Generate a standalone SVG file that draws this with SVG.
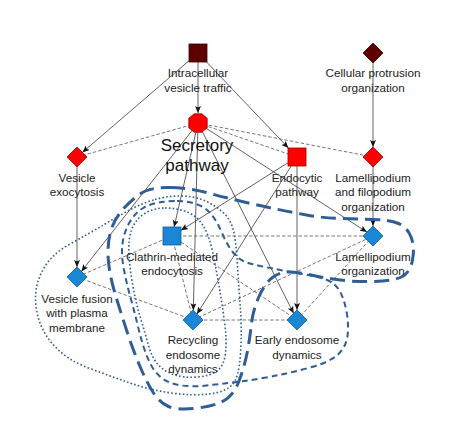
<svg xmlns="http://www.w3.org/2000/svg" width="465" height="422" viewBox="0 0 465 422">
<style>
.bg{fill:#ffffff}
.e{stroke:#3a3a3a;stroke-width:0.8;fill:none}
.d{stroke:#555;stroke-width:0.8;fill:none;stroke-dasharray:3.5 2}
.lbl{font-family:"Liberation Sans",Arial,sans-serif;font-size:11.7px;fill:#222;text-anchor:middle}
.big{font-family:"Liberation Sans",Arial,sans-serif;font-size:17px;fill:#111;text-anchor:middle}
.dk{fill:#5e0000;stroke:#3a0000;stroke-width:0.8}
.rd{fill:#ff0000;stroke:#a00000;stroke-width:0.8}
.bl{fill:#1a86d6;stroke:#0d5c99;stroke-width:0.8}
.ov{fill:none;stroke:#2f5e97}
.thick{stroke-width:3;stroke-dasharray:15 7}
.med{stroke-width:2;stroke-dasharray:6 4}
.dot{stroke-width:1.6;stroke-dasharray:1.6 2.2}
</style>
<defs>
<marker id="arr" markerUnits="userSpaceOnUse" markerWidth="8" markerHeight="8" refX="7" refY="3" orient="auto">
<path d="M0,0 L7,3 L0,6 L1.5,3 z" fill="#111"/>
</marker>
</defs>
<rect class="bg" x="0" y="0" width="465" height="422"/>
<g id="connectors">
<line class="e" x1="198" y1="53" x2="82.4" y2="152.4" marker-end="url(#arr)"/>
<line class="e" x1="198" y1="53" x2="198" y2="113" marker-end="url(#arr)"/>
<line class="e" x1="198" y1="53" x2="288.4" y2="148" marker-end="url(#arr)"/>
<line class="e" x1="373" y1="53" x2="373" y2="147" marker-end="url(#arr)"/>
<line class="e" x1="373" y1="157" x2="373" y2="226" marker-end="url(#arr)"/>
<line class="e" x1="77" y1="157" x2="77" y2="267" marker-end="url(#arr)"/>
<line class="e" x1="198" y1="123" x2="81.4" y2="271.4" marker-end="url(#arr)"/>
<line class="e" x1="198" y1="123" x2="174.1" y2="227" marker-end="url(#arr)"/>
<line class="e" x1="198" y1="123" x2="193.3" y2="310.2" marker-end="url(#arr)"/>
<line class="e" x1="198" y1="123" x2="293.6" y2="313.3" marker-end="url(#arr)"/>
<line class="e" x1="198" y1="123" x2="366.9" y2="232.1" marker-end="url(#arr)"/>
<line class="e" x1="297" y1="157" x2="181" y2="230.3" marker-end="url(#arr)"/>
<line class="e" x1="297" y1="157" x2="196.9" y2="313.9" marker-end="url(#arr)"/>
<line class="e" x1="297" y1="157" x2="297" y2="310" marker-end="url(#arr)"/>
<line class="d" x1="77" y1="157" x2="198" y2="123"/>
<line class="d" x1="198" y1="123" x2="297" y2="157"/>
<line class="d" x1="198" y1="123" x2="373" y2="157"/>
<line class="d" x1="172" y1="236" x2="373" y2="236"/>
<line class="d" x1="172" y1="236" x2="77" y2="277"/>
<line class="d" x1="172" y1="236" x2="193" y2="320"/>
<line class="d" x1="172" y1="236" x2="297" y2="320"/>
<line class="d" x1="77" y1="277" x2="193" y2="320"/>
<line class="d" x1="193" y1="320" x2="297" y2="320"/>
<line class="d" x1="193" y1="320" x2="373" y2="236"/>
<line class="d" x1="297" y1="320" x2="373" y2="236"/>
</g>
<g id="overlays">
<path id="blobA" class="ov thick" d="M170,187.5 Q190,188 206.5,192.5 Q223,197 240,201 Q257,205 273.5,208.5 Q290,212 306.5,215 Q323,218 340,218.5 Q357,219 373.5,219.5 Q390,220 398.5,223.5 Q407,227 411,237 Q415,247 412.5,260 Q410,273 401.5,277 Q393,281 373,281.5 Q353,282 336.5,279.5 Q320,277 308.5,274.5 Q297,272 288.5,272 Q280,272 272.5,277.5 Q265,283 259,296.5 Q253,310 251.5,323.5 Q250,337 247.5,351 Q245,365 239,381 Q233,397 221.5,402 Q210,407 193.5,408.5 Q177,410 168.5,406.5 Q160,403 153.5,393 Q147,383 140,366.5 Q133,350 126.5,330 Q120,310 115,293.5 Q110,277 108.5,262 Q107,247 110,234 Q113,221 121.5,211 Q130,201 140,194 Q150,187 170,187.5 Z"/>
<path id="blobB" class="ov med" d="M177,201 Q187,201 196,204 Q205,207 211,214 Q217,221 222,233 Q227,245 233.5,253 Q240,261 250,263.5 Q260,266 272.5,268.5 Q285,271 300,273.5 Q315,276 324.5,279 Q334,282 339,290 Q344,298 346.5,311.5 Q349,325 347.5,336 Q346,347 338,354.5 Q330,362 310,367.5 Q290,373 271.5,376.5 Q253,380 236.5,382 Q220,384 206.5,385.5 Q193,387 181.5,385.5 Q170,384 162.5,378.5 Q155,373 150.5,364 Q146,355 143,345 Q140,335 137,322.5 Q134,310 130.5,297.5 Q127,285 124,270 Q121,255 122.5,243.5 Q124,232 129.5,222.5 Q135,213 142.5,208.5 Q150,204 158.5,202.5 Q167,201 177,201 Z"/>
<path id="blobC" class="ov dot" d="M165,208 Q177,208 187,212 Q197,216 203,225.5 Q209,235 212.5,251.5 Q216,268 219,285.5 Q222,303 224.5,321.5 Q227,340 225.5,353 Q224,366 217,371 Q210,376 197.5,377 Q185,378 175,375 Q165,372 158.5,365 Q152,358 148.5,345.5 Q145,333 140.5,318 Q136,303 133,286.5 Q130,270 129,255 Q128,240 131.5,230 Q135,220 144,214 Q153,208 165,208 Z"/>
<path id="blobD" class="ov dot" d="M155,199.5 Q167,196 180,196 Q193,196 203,200 Q213,204 221.5,211 Q230,218 233,229 Q236,240 237.5,265 Q239,290 240.5,310 Q242,330 240.5,354 Q239,378 232,385 Q225,392 209,394 Q193,396 171.5,393 Q150,390 130,383 Q110,376 88.5,368 Q67,360 53.5,345 Q40,330 36.5,310 Q33,290 41.5,272.5 Q50,255 70,244 Q90,233 105,224 Q120,215 131.5,209 Q143,203 155,199.5 Z"/>
</g>
<g id="n-intracellular">
<rect class="dk" x="189" y="44" width="18" height="18"/>
<text class="lbl" x="198" y="77">Intracellular</text>
<text class="lbl" x="198" y="91.5">vesicle traffic</text>
</g>
<g id="n-protrusion">
<polygon class="dk" points="373,43 383,53 373,63 363,53"/>
<text class="lbl" x="373" y="77">Cellular protrusion</text>
<text class="lbl" x="373" y="91.5">organization</text>
</g>
<g id="n-secretory">
<polygon class="rd" points="201.8,113.8 207.2,118.2 207.2,127.8 201.8,132.2 194.2,132.2 188.8,127.8 188.8,118.2 194.2,113.8"/>
<text class="big" x="197" y="151">Secretory</text>
<text class="big" x="197" y="171">pathway</text>
</g>
<g id="n-endocytic">
<rect class="rd" x="288" y="148" width="18" height="18"/>
<text class="lbl" x="297" y="181.5">Endocytic</text>
<text class="lbl" x="297" y="196">pathway</text>
</g>
<g id="n-exocytosis">
<polygon class="rd" points="77,147 87,157 77,167 67,157"/>
<text class="lbl" x="77" y="181.5">Vesicle</text>
<text class="lbl" x="77" y="196">exocytosis</text>
</g>
<g id="n-lamfilo">
<polygon class="rd" points="373,147 383,157 373,167 363,157"/>
<text class="lbl" x="373" y="181.5">Lamellipodium</text>
<text class="lbl" x="373" y="196">and filopodium</text>
<text class="lbl" x="373" y="210.5">organization</text>
</g>
<g id="n-clathrin">
<rect class="bl" x="163" y="227" width="18" height="18"/>
<text class="lbl" x="172" y="261">Clathrin-mediated</text>
<text class="lbl" x="172" y="275">endocytosis</text>
</g>
<g id="n-lamorg">
<polygon class="bl" points="373,226 383,236 373,246 363,236"/>
<text class="lbl" x="373" y="261">Lamellipodium</text>
<text class="lbl" x="373" y="275">organization</text>
</g>
<g id="n-fusion">
<polygon class="bl" points="77,267 87,277 77,287 67,277"/>
<text class="lbl" x="77" y="302.5">Vesicle fusion</text>
<text class="lbl" x="77" y="317">with plasma</text>
<text class="lbl" x="77" y="331.5">membrane</text>
</g>
<g id="n-recycling">
<polygon class="bl" points="193,310 203,320 193,330 183,320"/>
<text class="lbl" x="193" y="344">Recycling</text>
<text class="lbl" x="193" y="358.5">endosome</text>
<text class="lbl" x="193" y="373">dynamics</text>
</g>
<g id="n-early">
<polygon class="bl" points="297,310 307,320 297,330 287,320"/>
<text class="lbl" x="297" y="344">Early endosome</text>
<text class="lbl" x="297" y="358.5">dynamics</text>
</g>
</svg>
